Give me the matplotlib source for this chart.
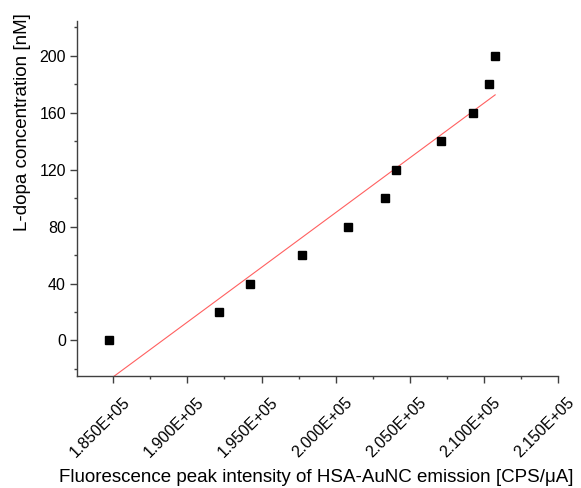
import matplotlib.pyplot as plt
import matplotlib.transforms as mtransforms
import numpy as np
from matplotlib.ticker import MultipleLocator, FuncFormatter

plt.rcParams['font.family'] = ['Liberation Sans', 'DejaVu Sans']

# intensidad de fluorescencia (CPS/uA) y concentracion de L-dopa (nM)
intensidad = [184700, 192130, 194250, 197750, 200840, 203330,
              204060, 207130, 209250, 210350, 210760]
concentracion = [0, 20, 40, 60, 80, 100, 120, 140, 160, 180, 200]

x = np.array(intensidad, dtype=float)
y = np.array(concentracion, dtype=float)

# ajuste lineal
m, b = np.polyfit(x, y, 1)
x_fit = np.linspace(x.min(), x.max(), 200)
y_fit = m * x_fit + b

fig = plt.figure(figsize=(5.81, 4.88), dpi=100)
ax = fig.add_axes([77 / 581, 1 - 376 / 488, (558 - 77) / 581, (376 - 21) / 488])

ax.plot(x_fit, y_fit, color='#ff6060', lw=0.8)
ax.plot(x, y, 's', color='black', ms=5.6, clip_on=False)

ax.set_xlim(182550, 215000)
ax.set_ylim(-25, 224.5)

ax.xaxis.set_major_locator(MultipleLocator(5000))
ax.xaxis.set_minor_locator(MultipleLocator(2500))
ax.yaxis.set_major_locator(MultipleLocator(40))
ax.yaxis.set_minor_locator(MultipleLocator(20))


def formato_e(v, pos):
    s = '%.3E' % v
    mant, exp = s.split('E')
    return mant + 'E+' + exp[1:].zfill(2)


ax.xaxis.set_major_formatter(FuncFormatter(formato_e))

for lado in ['top', 'right']:
    ax.spines[lado].set_visible(False)
for lado in ['left', 'bottom']:
    ax.spines[lado].set_color('#404040')
    ax.spines[lado].set_linewidth(1.0)

ax.tick_params(which='major', direction='out', length=5, width=1, color='#404040',
               labelsize=11.5, pad=3)
ax.tick_params(which='minor', direction='out', length=2.5, width=1, color='#404040')

fig.canvas.draw()
# etiquetas de x giradas 45 grados y desplazadas como en el original
desplazamiento = mtransforms.ScaledTranslation(0.14, -0.13, fig.dpi_scale_trans)
for etiqueta in ax.get_xticklabels():
    etiqueta.set_rotation(45)
    etiqueta.set_ha('right')
    etiqueta.set_va('center')
    etiqueta.set_rotation_mode('anchor')
    etiqueta.set_transform(etiqueta.get_transform() + desplazamiento)

ax.set_xlabel('Fluorescence peak intensity of HSA-AuNC emission [CPS/\u03bcA]',
              fontsize=13.5)
ax.xaxis.set_label_coords(0.498, -0.285)
ax.xaxis.label.set_va('center')

ax.set_ylabel('L-dopa concentration [nM]', fontsize=13.5)
ax.yaxis.set_label_coords(-0.114, 0.715)
ax.yaxis.label.set_va('center')

fig.savefig('out.png', dpi=100)
